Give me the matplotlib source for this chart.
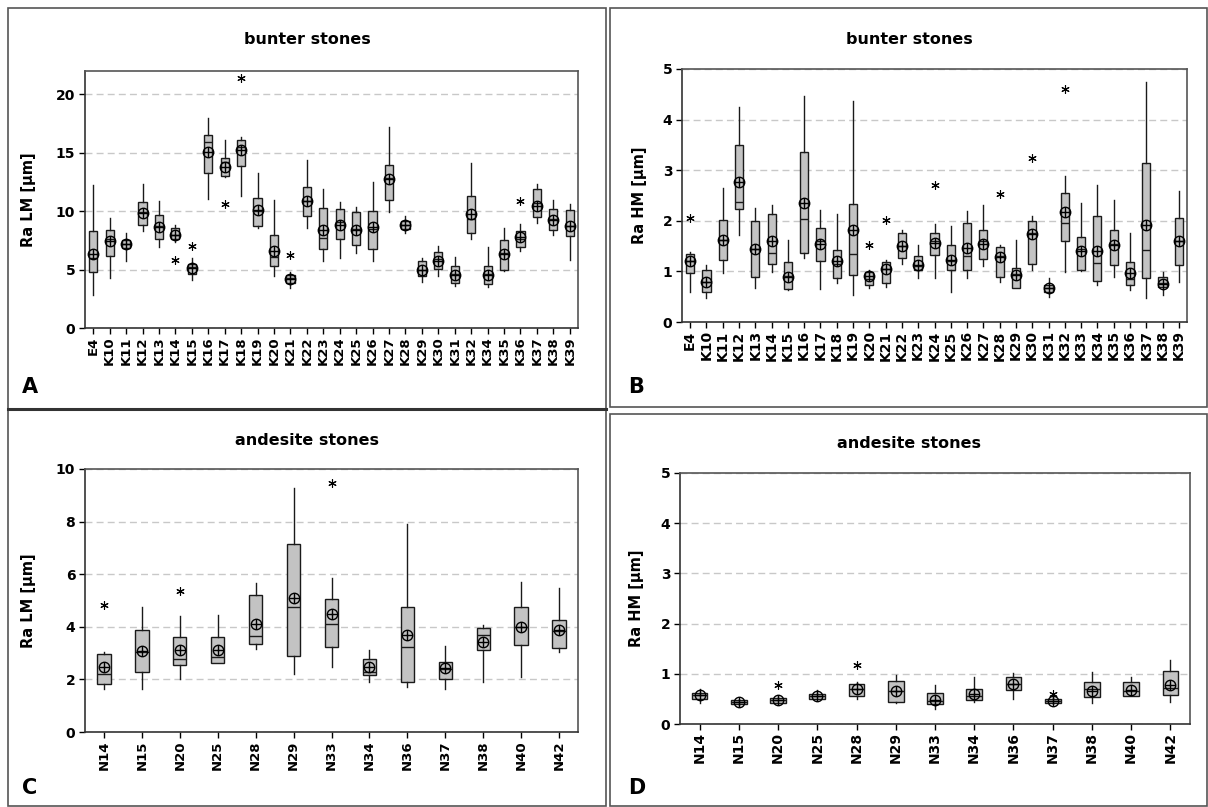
import matplotlib
matplotlib.use("Agg")
import matplotlib.pyplot as plt
from matplotlib.patches import Rectangle
from matplotlib.lines import Line2D

plt.rcParams['font.family'] = ['DejaVu Sans']
plt.rcParams['font.weight'] = 'bold'

# ---------------- Panel A : bunter stones, Ra LM ----------------
a_cats = ["E4", "K10", "K11", "K12", "K13", "K14", "K15", "K16", "K17", "K18", "K19", "K20",
          "K21", "K22", "K23", "K24", "K25", "K26", "K27", "K28", "K29", "K30", "K31", "K32",
          "K34", "K35", "K36", "K37", "K38", "K39"]
a_q1 = [4.76, 6.2, 6.85, 8.8, 7.65, 7.62, 4.65, 13.27, 13.04, 13.84, 8.7, 5.34, 3.85, 9.61, 6.76,
        7.62, 7.13, 6.76, 10.98, 8.47, 4.48, 5.05, 3.85, 8.13, 3.77, 4.99, 6.93, 9.5, 8.42, 7.85]
a_med = [6.0, 7.6, 7.2, 9.9, 8.7, 8.0, 5.2, 15.9, 14.2, 15.5, 10.0, 6.1, 4.3, 10.9, 7.7,
         9.1, 8.5, 8.5, 12.8, 8.8, 5.0, 5.9, 4.6, 9.3, 4.6, 6.4, 7.6, 10.7, 9.3, 8.7]
a_q3 = [8.27, 8.4, 7.5, 10.8, 9.7, 8.53, 5.5, 16.5, 14.52, 16.06, 11.13, 7.96, 4.56, 12.04, 10.27,
        10.19, 9.9, 10.0, 13.98, 9.13, 5.7, 6.48, 5.34, 11.33, 5.28, 7.56, 8.27, 11.9, 10.19, 10.07]
a_wlo = [2.8, 4.3, 5.7, 8.27, 6.93, 7.33, 4.08, 11.04, 12.9, 11.27, 8.56, 4.42, 3.4, 8.6, 5.76,
         5.99, 6.42, 5.76, 9.9, 8.13, 3.9, 4.48, 3.62, 7.62, 3.5, 4.85, 6.56, 8.99, 7.99, 5.85]
a_whi = [12.27, 9.4, 8.1, 12.35, 10.9, 8.84, 6.0, 17.97, 16.06, 16.35, 13.27, 10.98, 4.76, 14.4, 11.9,
         10.76, 10.36, 12.47, 17.18, 9.56, 5.99, 6.99, 6.08, 14.12, 6.9, 8.56, 8.93, 12.35, 10.98, 10.64]
a_mean = [6.36, 7.47, 7.2, 9.84, 8.64, 7.93, 5.13, 15.06, 13.78, 15.2, 10.07, 6.56, 4.2, 10.84, 8.42,
          8.84, 8.42, 8.64, 12.75, 8.79, 4.94, 5.7, 4.56, 9.79, 4.56, 6.36, 7.79, 10.47, 9.27, 8.7]
a_out = {"K14": [5.82], "K15": [6.99], "K17": [10.61], "K18": [21.4], "K21": [6.25], "K36": [10.84]}

# ---------------- Panel B : bunter stones, Ra HM ----------------
b_cats = ["E4", "K10", "K11", "K12", "K13", "K14", "K15", "K16", "K17", "K18", "K19", "K20",
          "K21", "K22", "K23", "K24", "K25", "K26", "K27", "K28", "K29", "K30", "K31", "K32",
          "K33", "K34", "K35", "K36", "K37", "K38", "K39"]
b_q1 = [0.97, 0.59, 1.22, 2.24, 0.89, 1.15, 0.66, 1.36, 1.2, 0.87, 0.93, 0.74, 0.77, 1.26, 1.03,
        1.32, 1.03, 1.03, 1.25, 0.89, 0.68, 1.15, 0.59, 1.6, 1.03, 0.81, 1.13, 0.74, 0.86, 0.7, 1.12]
b_med = [1.2, 0.8, 1.62, 2.37, 1.45, 1.37, 0.9, 2.03, 1.6, 1.15, 1.35, 0.85, 1.05, 1.5, 1.1,
         1.6, 1.2, 1.3, 1.6, 1.3, 0.95, 1.75, 0.68, 1.95, 1.45, 1.16, 1.55, 0.85, 1.43, 0.78, 1.6]
b_q3 = [1.35, 1.02, 2.02, 3.49, 2.0, 2.14, 1.18, 3.36, 1.86, 1.43, 2.34, 0.99, 1.18, 1.76, 1.3,
        1.76, 1.53, 1.96, 1.82, 1.48, 1.07, 1.99, 0.74, 2.55, 1.68, 2.09, 1.81, 1.18, 3.14, 0.89, 2.06]
b_wlo = [0.59, 0.48, 0.97, 1.71, 0.68, 0.99, 0.64, 1.27, 0.66, 0.77, 0.53, 0.68, 0.7, 1.15, 0.86,
         0.86, 0.59, 0.86, 1.1, 0.79, 0.68, 1.03, 0.49, 0.99, 1.0, 0.74, 0.88, 0.64, 0.48, 0.53, 0.79]
b_whi = [1.38, 1.12, 2.65, 4.24, 2.25, 2.32, 1.62, 4.47, 2.22, 2.14, 4.36, 1.02, 1.22, 1.81, 1.53,
         1.93, 1.89, 2.2, 2.32, 1.53, 1.62, 2.09, 0.86, 2.88, 2.36, 2.71, 2.41, 1.76, 4.75, 0.99, 2.59]
b_mean = [1.2, 0.79, 1.62, 2.76, 1.45, 1.6, 0.88, 2.35, 1.55, 1.2, 1.81, 0.9, 1.05, 1.5, 1.13,
          1.57, 1.22, 1.47, 1.55, 1.28, 0.92, 1.73, 0.68, 2.17, 1.4, 1.41, 1.53, 0.97, 1.91, 0.76, 1.61]
b_out = {"E4": [2.06], "K20": [1.53], "K21": [2.02], "K24": [2.7], "K28": [2.52],
         "K30": [3.24], "K32": [4.6]}

# ---------------- Panel C : andesite stones, Ra LM ----------------
c_cats = ["N14", "N15", "N20", "N25", "N28", "N29", "N33", "N34", "N36", "N37", "N38", "N40", "N42"]
c_q1 = [1.82, 2.3, 2.53, 2.62, 3.34, 2.9, 3.25, 2.18, 1.92, 2.01, 3.1, 3.29, 3.2]
c_med = [2.2, 3.06, 2.77, 2.85, 3.65, 4.77, 4.11, 2.3, 3.22, 2.4, 3.7, 4.0, 3.85]
c_q3 = [2.97, 3.89, 3.6, 3.6, 5.22, 7.14, 5.05, 2.78, 4.77, 2.68, 3.95, 4.75, 4.27]
c_wlo = [1.63, 1.63, 2.01, 2.62, 3.15, 2.22, 2.49, 1.89, 1.73, 1.65, 1.92, 2.09, 3.04]
c_whi = [3.06, 4.77, 4.42, 4.46, 5.68, 9.27, 5.85, 3.13, 7.9, 3.28, 4.05, 5.7, 5.49]
c_mean = [2.46, 3.09, 3.13, 3.1, 4.11, 5.09, 4.48, 2.46, 3.7, 2.43, 3.44, 4.01, 3.89]
c_out = {"N14": [4.84], "N20": [5.38], "N33": [9.48]}

# ---------------- Panel D : andesite stones, Ra HM ----------------
d_cats = ["N14", "N15", "N20", "N25", "N28", "N29", "N33", "N34", "N36", "N37", "N38", "N40", "N42"]
d_q1 = [0.5, 0.39, 0.42, 0.5, 0.55, 0.43, 0.4, 0.47, 0.68, 0.42, 0.54, 0.56, 0.57]
d_med = [0.57, 0.43, 0.48, 0.55, 0.7, 0.65, 0.45, 0.55, 0.8, 0.46, 0.7, 0.65, 0.72]
d_q3 = [0.62, 0.47, 0.52, 0.6, 0.79, 0.85, 0.62, 0.7, 0.93, 0.5, 0.83, 0.83, 1.06]
d_wlo = [0.42, 0.36, 0.4, 0.48, 0.5, 0.42, 0.3, 0.44, 0.5, 0.4, 0.41, 0.56, 0.43]
d_whi = [0.7, 0.5, 0.55, 0.68, 0.84, 0.98, 0.77, 0.94, 1.02, 0.55, 1.04, 0.94, 1.27]
d_mean = [0.57, 0.43, 0.48, 0.55, 0.7, 0.66, 0.48, 0.6, 0.8, 0.46, 0.66, 0.68, 0.78]
d_out = {"N20": [0.77], "N28": [1.17], "N37": [0.6]}

W, H = 1208, 807
fig = plt.figure(figsize=(W / 100, H / 100), dpi=100)


def px_rect(x0, y0, x1, y1):
    return [x0 / W, 1 - y1 / H, (x1 - x0) / W, (y1 - y0) / H]


# panel frames
for (x0, y0, x1, y1, lw) in [(8, 8, 606, 409, 1.2), (610, 8, 1207, 407, 1.2),
                             (8, 409, 606, 806, 1.2), (610, 414, 1207, 806, 1.2)]:
    fig.add_artist(Rectangle((x0 / W, 1 - y1 / H), (x1 - x0) / W, (y1 - y0) / H,
                             transform=fig.transFigure, fill=False,
                             edgecolor='#555555', linewidth=lw))
fig.add_artist(Line2D([8 / W, 606 / W], [1 - 408.5 / H, 1 - 408.5 / H],
                      transform=fig.transFigure, color='#333333', linewidth=2.2))


def draw_panel(rect, cats, q1, med, q3, wlo, whi, mean, outl, ylim, yticks,
               ylabel, width, xfs, ylab_x):
    ax = fig.add_axes(rect)
    stats = []
    for i, c in enumerate(cats):
        stats.append(dict(q1=q1[i], med=med[i], q3=q3[i], whislo=wlo[i], whishi=whi[i],
                          fliers=outl.get(c, []), label=c))
    pos = list(range(len(cats)))
    ax.bxp(stats, positions=pos, widths=width, patch_artist=True, showcaps=False,
           showfliers=True,
           boxprops=dict(facecolor='#c3c3c3', edgecolor='#1a1a1a', linewidth=1.0),
           whiskerprops=dict(color='#1a1a1a', linewidth=1.0),
           medianprops=dict(color='#1a1a1a', linewidth=1.0),
           flierprops=dict(marker=(6, 2, 0), markeredgecolor='black', markerfacecolor='black',
                           markersize=6, markeredgewidth=0.8, linestyle='none'))
    ax.plot(pos, mean, linestyle='none', marker='o', markersize=7.5, markerfacecolor='none',
            markeredgecolor='black', markeredgewidth=1.0, zorder=5)
    ax.plot(pos, mean, linestyle='none', marker='+', markersize=7.5, markeredgecolor='black',
            markeredgewidth=1.0, zorder=5)
    ax.set_xlim(-0.5, len(cats) - 0.5)
    ax.set_ylim(*ylim)
    ax.set_yticks(yticks)
    ax.set_xticks(pos)
    ax.set_xticklabels(cats, rotation=90, fontsize=xfs, fontweight='bold')
    ax.tick_params(axis='y', labelsize=10, length=4, width=1, direction='out', pad=3)
    ax.tick_params(axis='x', length=4, width=1, direction='out', pad=2)
    for lab in ax.get_yticklabels():
        lab.set_fontweight('bold')
    ax.yaxis.grid(True, linestyle=(0, (5, 3)), color='#c8c8c8', linewidth=1.0)
    ax.set_axisbelow(True)
    for s in ['left', 'bottom']:
        ax.spines[s].set_color('#333333')
        ax.spines[s].set_linewidth(1.2)
    for s in ['top', 'right']:
        ax.spines[s].set_color('#555555')
        ax.spines[s].set_linewidth(1.2)
    ax.set_ylabel(ylabel, fontsize=10.5, fontweight='bold')
    ax.yaxis.set_label_coords(ylab_x, 0.5)
    return ax


draw_panel(px_rect(85, 71, 578, 328), a_cats, a_q1, a_med, a_q3, a_wlo, a_whi, a_mean, a_out,
           (0, 22), [0, 5, 10, 15, 20], "Ra LM [µm]", 0.5, 9.5, -0.10)
draw_panel(px_rect(682, 69, 1187, 322), b_cats, b_q1, b_med, b_q3, b_wlo, b_whi, b_mean, b_out,
           (0, 5), [0, 1, 2, 3, 4, 5], "Ra HM [µm]", 0.5, 10, -0.07)
draw_panel(px_rect(85, 469, 578, 732), c_cats, c_q1, c_med, c_q3, c_wlo, c_whi, c_mean, c_out,
           (0, 10), [0, 2, 4, 6, 8, 10], "Ra LM [µm]", 0.35, 9.5, -0.10)
draw_panel(px_rect(680, 473, 1190, 724), d_cats, d_q1, d_med, d_q3, d_wlo, d_whi, d_mean, d_out,
           (0, 5), [0, 1, 2, 3, 4, 5], "Ra HM [µm]", 0.4, 10, -0.07)

# titles
for (x, y, t) in [(307, 39, "bunter stones"), (909, 39, "bunter stones"),
                  (307, 440, "andesite stones"), (909, 444, "andesite stones")]:
    fig.text(x / W, 1 - y / H, t, ha='center', va='center', fontsize=11.5, fontweight='bold')

# panel letters
for (x, y, t) in [(22, 387, "A"), (628, 387, "B"), (22, 788, "C"), (628, 788, "D")]:
    fig.text(x / W, 1 - y / H, t, ha='left', va='center', fontsize=15, fontweight='bold')

fig.savefig("out.png", dpi=100)
